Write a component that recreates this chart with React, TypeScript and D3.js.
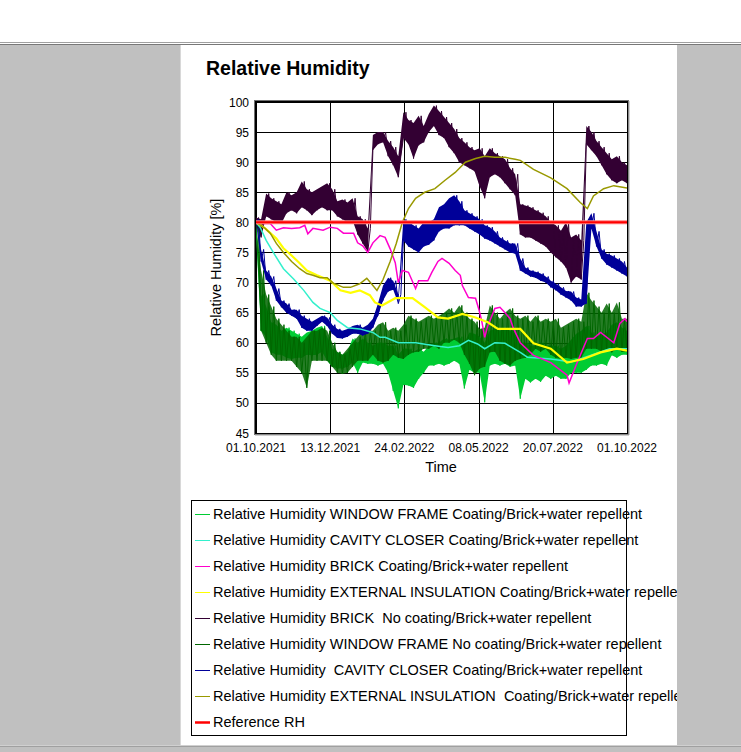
import React from 'react';
import * as d3 from 'd3';

const W = 741;
const H = 752;

// ---------- data ----------
const yTicks = [45, 50, 55, 60, 65, 70, 75, 80, 85, 90, 95, 100];
const xTickDays = [0, 73, 146, 219, 292, 365];
const xTickLabels = ['01.10.2021', '13.12.2021', '24.02.2022', '08.05.2022', '20.07.2022', '01.10.2022'];

// sample grid (days since 01.10.2021) for the noisy series, read every 5 days
const noisyDays = [0,5,10,15,20,25,30,35,40,45,50,55,60,65,70,75,80,85,90,95,100,105,110,115,120,125,130,135,140,145,150,155,160,165,170,175,180,185,190,195,200,205,210,215,220,225,230,235,240,245,250,255,260,265,270,275,280,285,290,295,300,305,310,315,320,325,330,335,340,345,350,355,360,365];

// WINDOW FRAME Coating (light green) low / high envelope
const wfCoatLo = [78,62,61,58.4,58,58,57.5,57.3,57.5,57.5,58,57.9,58,58.5,57,56,55.7,55.7,56,56.7,55,56.7,56.5,56.5,56.2,56.5,55,52,49.1,53,52.9,52.5,54,55,56.2,56.2,56.5,56.2,56.5,57,56.5,52.4,55.5,55,55,50.1,56.2,56.5,56.2,56.5,56,56.2,50.7,54,53.4,54,53.5,54.5,54,54.5,54,54,55,55,55,55.5,56.2,56.2,56.5,56.2,57.9,57.5,58,58];
const wfCoatHi = [80,68,66,63.4,63,62,62.5,62,61.5,61,61.7,62,62.5,62.8,61,59,58.4,58,58.5,60.7,60,60.7,60,59.5,60,60,59.5,59.5,58,59,59,58.5,59,58.5,59.5,60,60,60.7,60.5,60.7,61,60,61.7,61.5,61,60,62,62.3,62,62.3,62,61.5,60,60,59.5,59.5,60,59.5,59.5,59.5,59,59.5,60.5,61.5,62,62.8,61.7,61,61.5,61.7,63,63.4,62.5,62];

// BRICK No coating (dark purple)
const brickNoLo = [79.5,77.5,81,80.5,80,79.8,81.5,82,81.5,82.5,82,81.2,82,82.5,82,82,81,80.5,80,80.3,78,76.5,75.1,92,93,93.3,91,89.5,87.5,94,93,90.6,92.8,93.3,95,96,94.5,94,92.5,91.5,90,89.5,89,88.5,86,84,87.5,88,87.5,86.5,85.5,84.5,78,77.5,77.5,77,76.5,76,75,74.2,73.5,72.5,70,71,70.5,93,92,91,89.5,88,87,86.5,87,86.5];
const brickNoHi = [80.8,80.5,84.8,84,83.5,83,85,84.5,85,86.8,85.5,85,85.5,86,86.5,85.5,83.5,83.8,83.3,84,81,80.5,79,94.5,95,95,93.5,92.5,91,98.3,97,96.5,97.7,96,98,99.4,98.5,97.5,96.5,95.5,94,93.3,92.5,92,92.3,91,92.3,91.5,91,90.5,89,88,83,82.8,82.5,82,81.6,81,80,79.5,78.6,80,77.5,78,77,96,95,93.5,92.5,91.5,90.5,91,90,89.5];

// WINDOW FRAME No coating (dark green)
const wfNoLo = [79,62,60,58,57,57,57,57,56,55,52.5,57,57,57,57,56,55,54.8,55,56,57,57,57,58,57,56.7,57,58,57.5,57.3,58,58.4,58.5,59,59,59.5,59,60,60,60.5,60,58,56.5,54.6,55.7,56,58.4,58.5,57,56.5,56.2,57,57.3,57.5,58,59,58.5,59,58,57.5,57.3,57.5,57.3,57.5,57.5,59,59,59,58.5,59,58.4,59,58.5,58.5];
const wfNoHi = [80,72,68,66,64,63,62,61,61,60,61,62,62,62.5,62,60,58.5,58,59,60,61,62,62,62,63,63.4,62,62.5,62,63,64.5,64,63.5,64,64.5,64,64.5,65,65.7,65,66.2,65,64,63.5,62.3,62.5,66.2,65,64,65,65.7,64.5,64,64.5,63.5,64.5,63.5,64,63.5,64,62.5,63,63.5,64,63.5,68.3,67,66,65,66.5,65,66.7,64,64];

// CAVITY CLOSER Coating, second sensor (navy)
const ccNavyLo = [80,73.5,70.5,69.5,67,65.9,65,64.5,64,62.5,62,62,62.8,63.5,62.8,61.5,60.8,60.7,61,61.5,61.5,61.2,61.5,62.5,64.5,67,68.5,68.8,66.5,77,76,75.5,75,76,76.3,77,78.5,79,79,79.5,79.5,79.5,79,78.5,78,77.3,77,76.5,76,75.5,75,74.8,72,71.5,71,70.8,70.3,70,69.2,68.7,68,67.5,67,66,66,66.5,79,76,74,73,72.5,72,71.5,71];
const ccNavyHi = [80.5,75.5,72,71,69,67,66.5,65.5,65.5,64.5,64,63.5,64,64.5,64.2,63,62.3,62,62.3,62.8,63,62.5,63,64,66.5,69.5,70.8,70.3,68,80.5,80,79.5,79,80,80,80.5,82.5,83,84,84.5,83.5,82,81.5,81,80.5,79.5,79.2,78.5,77.5,77,76.5,76.5,74,72.5,72,71.8,71.5,71,70.3,69.8,69.2,68.6,68.5,67.5,67.2,80,81.5,78.5,75.5,74.8,74.5,74,73.5,72.5];

// smooth series: own day grids
const ccCoatDays = [0,4,10,17,27,37,47,56,63,73,80,90,102,115,122,127,140,157,176,189,200,209,218,225,235,245,260,267,290,310,329,348,365];
const ccCoatVals = [80,79.2,77,75,72.3,70.6,68.7,66.7,65.7,65,63.7,62.5,62.3,61.7,60.9,60.9,60,60,59.5,59.2,59.5,60.4,59.8,59,60,59.9,58.4,57.6,57.3,56.8,57.9,59,59];

const brickCoatDays = [0,7,14,20,27,35,43,48,51,56,66,73,80,86,96,100,105,110,115,122,127,132,137,140,144,150,157,160,169,173,179,183,190,196,201,203,209,216,219,222,225,228,235,240,245,250,253,260,273,290,306,308,316,326,332,339,352,358,363,365];
const brickCoatVals = [80,79.8,79.8,78.7,79.1,79,79.1,79.5,78.1,79,78.7,79.2,79,78.2,78.2,76.6,76.1,75,76.6,77.8,77.5,75.6,73.3,70,72,71.7,69,70.3,70.3,71.7,73.5,74,73.2,72,71.2,69.5,67.5,67.4,65.7,63.7,60.9,62.8,65.7,65.9,65,64,62.5,60,57.9,56.7,54.6,53.3,56.7,60.7,60.7,61.7,60,63.2,64,63.5];

const extInsDays = [0,5,9,20,27,35,43,50,60,73,83,93,102,112,117,124,137,154,166,179,189,203,216,228,238,250,260,273,290,306,322,339,355,365];
const extInsVals = [80,79.5,79,77.3,75.7,74.5,73.2,72,71.2,70.3,68.7,68.3,68.7,67.9,66.7,66.2,67.4,67.4,65.9,64.2,64,64.8,64.2,63.4,62.3,62.3,62.3,59.9,59,56.7,57.3,58.4,59,58.7];

const extIns2Days = [0,5,9,14,20,27,35,43,50,56,63,70,76,86,93,102,109,115,119,125,132,138,144,150,157,166,176,186,196,206,216,225,235,245,255,260,273,290,306,319,326,332,342,352,365];
const extIns2Vals = [80,79.5,79,78.2,76.5,75,73.5,72.3,71.5,71.2,70.8,70.8,69.9,69.2,69.2,69.8,70.7,69.5,68.7,70.5,73.5,76.5,80,82.3,84,85,85.6,87,88.3,90,90.6,91,90.8,90.8,90.5,90.3,88.8,87.4,85.6,83.3,82.3,84.4,85.6,86.1,85.7];

const referenceRH = 80;

const legendLabels = [
  'Relative Humidity WINDOW FRAME Coating/Brick+water repellent',
  'Relative Humidity CAVITY CLOSER Coating/Brick+water repellent',
  'Relative Humidity BRICK Coating/Brick+water repellent',
  'Relative Humidity EXTERNAL INSULATION Coating/Brick+water repellent',
  'Relative Humidity BRICK  No coating/Brick+water repellent',
  'Relative Humidity WINDOW FRAME No coating/Brick+water repellent',
  'Relative Humidity  CAVITY CLOSER Coating/Brick+water repellent',
  'Relative Humidity EXTERNAL INSULATION  Coating/Brick+water repellent',
  'Reference RH',
];
const legendColors = ['#00cc33', '#33f0cc', '#ff00cc', '#ffff00', '#330033', '#006600', '#000099', '#999900', '#ff0000'];

// ---------- layout ----------
const plotL = 256, plotR = 627, plotT = 102, plotB = 433;
const FONT = "'Liberation Sans', Arial, sans-serif";

export default function App() {
  const x = d3.scaleLinear().domain([0, 365]).range([plotL, plotR]);
  const y = d3.scaleLinear().domain([45, 100]).range([plotB, plotT]);

  const smoothLine = (days: number[], vals: number[]) =>
    d3.line<number>().x((_, i) => x(days[i])).y((v) => y(v))(vals) || '';

  const zigzag = (lo: number[], hi: number[]) => {
    const pts: [number, number][] = [];
    noisyDays.forEach((d, i) => {
      pts.push([x(d), y(lo[i])]);
      if (i < noisyDays.length - 1) pts.push([x(d + 2.5), y(hi[i])]);
    });
    return d3.line()(pts) || '';
  };
  const band = (lo: number[], hi: number[]) =>
    d3.area<number>().x((d) => x(d)).y0((_, i) => y(lo[i])).y1((_, i) => y(hi[i]))(noisyDays) || '';

  const noisy = (lo: number[], hi: number[], color: string, op: number) => (
    <g>
      <path d={band(lo, hi)} fill={color} fillOpacity={op} stroke="none" />
      <path d={zigzag(lo, hi)} fill="none" stroke={color} strokeWidth={1} />
    </g>
  );

  return (
    <svg width={W} height={H} style={{ position: 'absolute', left: 0, top: 0, fontFamily: FONT }}>
      <rect x={0} y={0} width={W} height={H} fill="#ffffff" />
      <rect x={0} y={42} width={W} height={1} fill="#a0a0a0" />
      <rect x={0} y={44} width={W} height={1} fill="#787878" />
      <rect x={0} y={45} width={180} height={700} fill="#c0c0c0" />
      <rect x={180} y={45} width={1} height={700} fill="#d8d8d8" />

      {/* title */}
      <text x={206} y={75} fontSize={19.5} fontWeight="bold" fill="#000">Relative Humidity</text>

      {/* gridlines */}
      {yTicks.map((t) => (
        <line key={'gy' + t} x1={plotL} x2={plotR} y1={Math.round(y(t)) + 0.5} y2={Math.round(y(t)) + 0.5} stroke="#000" strokeWidth={1} />
      ))}
      {xTickDays.map((d) => (
        <line key={'gx' + d} x1={Math.round(x(d)) + 0.5} x2={Math.round(x(d)) + 0.5} y1={plotT} y2={plotB} stroke="#000" strokeWidth={1} />
      ))}

      <clipPath id="plotClip"><rect x={plotL} y={plotT} width={plotR - plotL} height={plotB - plotT} /></clipPath>
      <g clipPath="url(#plotClip)">
        {noisy(wfCoatLo, wfCoatHi, legendColors[0], 1)}
        {noisy(brickNoLo, brickNoHi, legendColors[4], 1)}
        {noisy(wfNoLo, wfNoHi, legendColors[5], 0.85)}
        {noisy(ccNavyLo, ccNavyHi, legendColors[6], 1)}
        <path d={smoothLine(ccCoatDays, ccCoatVals)} fill="none" stroke={legendColors[1]} strokeWidth={1.5} />
        <path d={smoothLine(brickCoatDays, brickCoatVals)} fill="none" stroke={legendColors[2]} strokeWidth={1.5} />
        <path d={smoothLine(extInsDays, extInsVals)} fill="none" stroke={legendColors[3]} strokeWidth={2.2} />
        <path d={smoothLine(extIns2Days, extIns2Vals)} fill="none" stroke={legendColors[7]} strokeWidth={1.5} />
        <line x1={plotL} x2={plotR} y1={y(referenceRH)} y2={y(referenceRH)} stroke="#ff8080" strokeWidth={4} />
        <line x1={plotL} x2={plotR} y1={y(referenceRH)} y2={y(referenceRH)} stroke="#ff0000" strokeWidth={2} />
      </g>

      {/* frame */}
      <rect x={plotL - 0.5} y={plotT - 0.5} width={plotR - plotL + 1} height={plotB - plotT + 1} fill="none" stroke="#000" strokeWidth={1} />
      <rect x={plotL - 1.5} y={plotT - 1.5} width={plotR - plotL + 3} height={plotB - plotT + 3} fill="none" stroke="#707070" strokeWidth={1} />
      <line x1={plotR + 2} x2={plotR + 2} y1={plotT - 1} y2={plotB + 2} stroke="#a0a0a0" strokeWidth={1} />
      <line x1={plotL - 1} x2={plotR + 2} y1={plotB + 2} y2={plotB + 2} stroke="#a0a0a0" strokeWidth={1} />

      {/* axes labels */}
      {yTicks.map((t) => (
        <text key={'ty' + t} x={249} y={y(t) + 4.5} fontSize={12} textAnchor="end" fill="#000">{t}</text>
      ))}
      {xTickDays.map((d, i) => (
        <text key={'tx' + d} x={x(d)} y={452} fontSize={12} textAnchor="middle" fill="#000">{xTickLabels[i]}</text>
      ))}
      <text x={441} y={472} fontSize={14.5} textAnchor="middle" fill="#000">Time</text>
      <text transform={`translate(221,${(plotT + plotB) / 2}) rotate(-90)`} fontSize={14.5} textAnchor="middle" fill="#000">Relative Humidity [%]</text>

      {/* legend */}
      <rect x={191.5} y={500.5} width={435} height={235} fill="none" stroke="#000" strokeWidth={1} />
      {legendLabels.map((lab, i) => (
        <g key={'lg' + i}>
          <line x1={195} x2={210} y1={514.5 + 26 * i} y2={514.5 + 26 * i} stroke={legendColors[i]} strokeWidth={i === 8 ? 2.5 : 1} />
          <text x={213} y={519 + 26 * i} fontSize={14.5} fill="#000" style={{ whiteSpace: 'pre' }}>{lab}</text>
        </g>
      ))}

      {/* right gray panel and bottom */}
      <rect x={677} y={45} width={64} height={700} fill="#c0c0c0" />
      <rect x={0} y={745} width={W} height={1} fill="#d0d0d0" />
      <rect x={0} y={746} width={W} height={1} fill="#a0a0a0" />
      <rect x={0} y={747} width={W} height={5} fill="#c0c0c0" />
    </svg>
  );
}
